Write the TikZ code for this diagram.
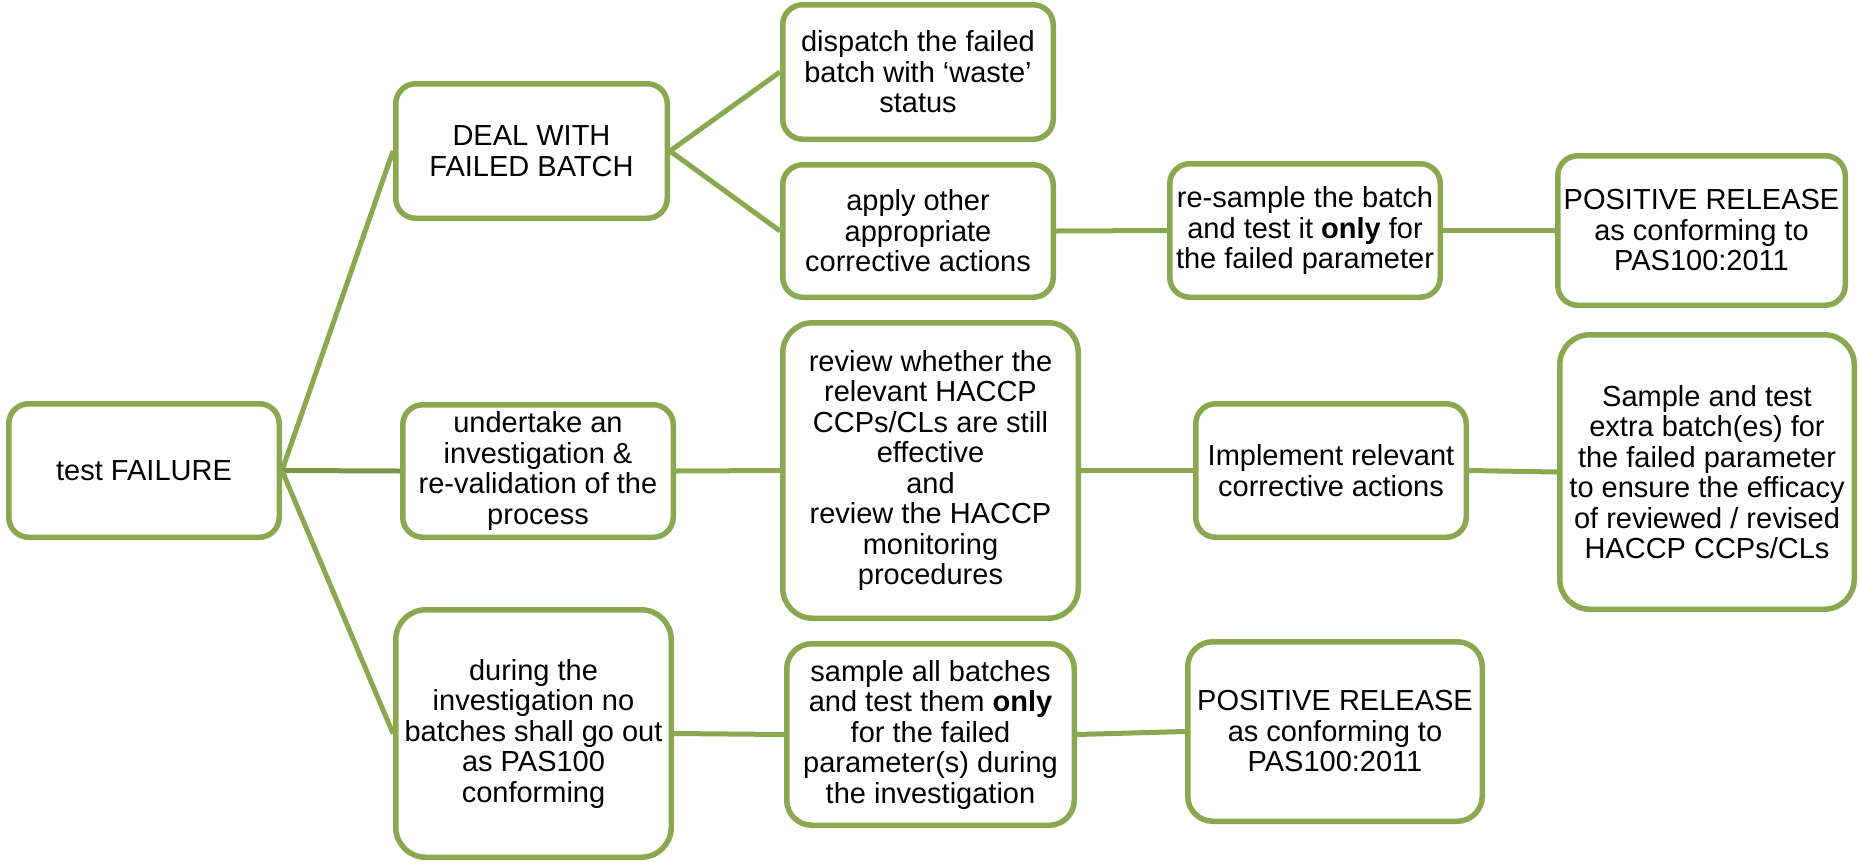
\documentclass[tikz,border=0pt]{standalone}
\usepackage{fontspec}
\setmainfont{Liberation Sans}
\definecolor{grn}{RGB}{138,168,80}
\definecolor{dgrn}{RGB}{123,150,72}
\begin{document}
\begin{tikzpicture}[x=1pt,y=-1pt,
 box/.style={draw=grn, line width=5.5pt, rounded corners=20pt, align=center,
   font=\fontsize{29}{30.5}\selectfont, inner sep=0pt, text=black},
 conn/.style={draw=grn, line width=5pt}]
\useasboundingbox (0,0) rectangle (1860,863);
\node[box, minimum width=270.5pt, minimum height=133.5pt] (A) at (144,470.5) {test FAILURE};
\node[box, minimum width=271.5pt, minimum height=134.5pt] (B) at (531.5,151) {DEAL WITH\\FAILED BATCH};
\node[box, minimum width=270.5pt, minimum height=132.5pt] (C) at (538,471) {undertake an\\investigation \&\\re-validation of the\\process};
\node[box, rounded corners=30pt, minimum width=275.5pt, minimum height=247.5pt] (D) at (533.5,733.5) {during the\\investigation no\\batches shall go out\\as PAS100\\conforming};
\node[box, minimum width=270.5pt, minimum height=134.5pt] (E) at (918,72) {dispatch the failed\\batch with ‘waste’\\status};
\node[box, minimum width=270.5pt, minimum height=132.5pt] (F) at (918,231) {apply other\\appropriate\\corrective actions};
\node[box, rounded corners=30pt, minimum width=295.5pt, minimum height=295.5pt] (G) at (930.5,470.5) {review whether the\\relevant HACCP\\CCPs/CLs are still\\effective\\and\\review the HACCP\\monitoring\\procedures};
\node[box, rounded corners=25pt, minimum width=287.5pt, minimum height=181.5pt] (H) at (930.5,734.5) {sample all batches\\and test them \textbf{only}\\for the failed\\parameter(s) during\\the investigation};
\node[box, minimum width=270.5pt, minimum height=133.5pt] (I) at (1305,230.5) {re-sample the batch\\and test it \textbf{only} for\\the failed parameter};
\node[box, minimum width=270.5pt, minimum height=133.5pt] (J) at (1331,470.5) {Implement relevant\\corrective actions};
\node[box, rounded corners=25pt, minimum width=294.5pt, minimum height=179.5pt] (K) at (1335,731.5) {POSITIVE RELEASE\\as conforming to\\PAS100:2011};
\node[box, minimum width=287.5pt, minimum height=149.5pt] (L) at (1701.5,230.5) {POSITIVE RELEASE\\as conforming to\\PAS100:2011};
\node[box, rounded corners=30pt, minimum width=294.5pt, minimum height=274.5pt] (M) at (1707,472) {Sample and test\\extra batch(es) for\\the failed parameter\\to ensure the efficacy\\of reviewed / revised\\HACCP CCPs/CLs};
\draw[conn] (A.east) -- (B.west);
\draw[conn, draw=dgrn] (A.east) -- (C.west);
\draw[conn] (A.east) -- (D.west);
\draw[conn] (B.east) -- (E.west);
\draw[conn] (B.east) -- (F.west);
\draw[conn] (F.east) -- (I.west);
\draw[conn] (I.east) -- (L.west);
\draw[conn] (C.east) -- (G.west);
\draw[conn] (G.east) -- (J.west);
\draw[conn] (J.east) -- (M.west);
\draw[conn] (D.east) -- (H.west);
\draw[conn] (H.east) -- (K.west);
\end{tikzpicture}
\end{document}
